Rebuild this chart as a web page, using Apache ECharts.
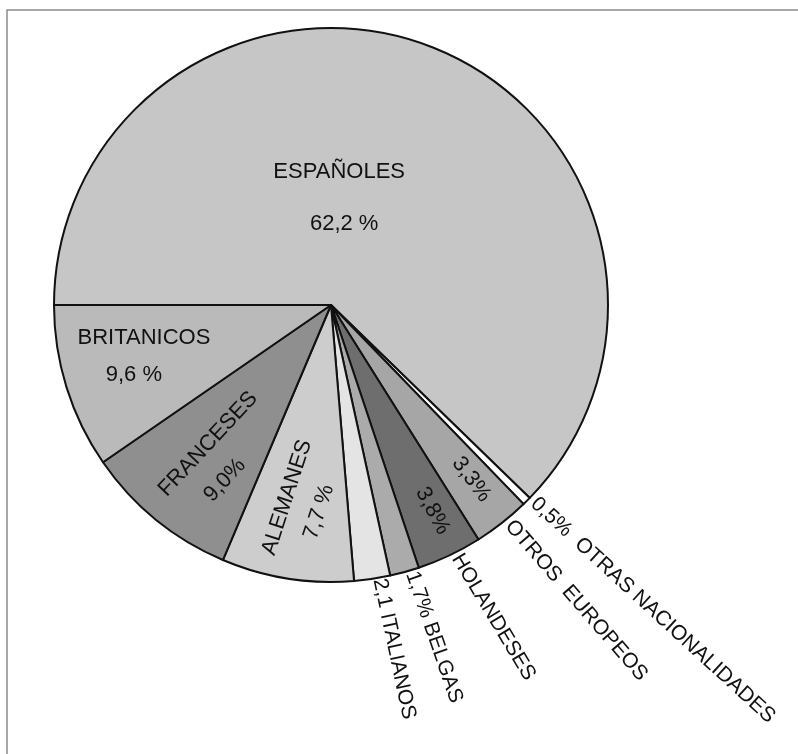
<!DOCTYPE html>
<html><head><meta charset="utf-8">
<script src="https://cdn.jsdelivr.net/npm/echarts@6/dist/echarts.min.js"></script>
<style>html,body{margin:0;padding:0;background:#fff}#c{width:798px;height:754px}</style>
</head><body><div id="c"></div>
<script>
// ---- data ----
const categories = ['ESPAÑOLES','OTRAS NACIONALIDADES','OTROS EUROPEOS','HOLANDESES','BELGAS','ITALIANOS','ALEMANES','FRANCESES','BRITANICOS'];
const values = [62.2, 0.5, 3.3, 3.8, 1.7, 2.1, 7.7, 9.0, 9.6];
const valueLabels = ['62,2 %','0,5%','3,3%','3,8%','1,7%','2,1','7,7 %','9,0%','9,6 %'];
const colors = ['#c6c6c6','#ffffff','#a6a6a6','#6e6e6e','#ababab','#e4e4e4','#cdcdcd','#8f8f8f','#bababa'];

// ---- label styling (not data) ----
const FONT = '"Liberation Sans", Arial, sans-serif';
const TXT = '#111111';
const insideStyle = {
  0: {text: i => `{n|${categories[i]}}\n{v|${valueLabels[i]}}`, lh: 52, vpad: [0,0,0,10], rotate: 0, dx: -45, dy: 24},
  8: {text: i => `{n|${categories[i]}}\n{v|${valueLabels[i]}}`, lh: 37, vpad: [0,20,0,0], rotate: 0, dx: -52, dy: 9},
  7: {text: i => `{n|${categories[i]}}\n{v|${valueLabels[i]}}`, lh: 37, vpad: [0,30,0,0], rotate: 47, dx: -20, dy: 42},
  6: {text: i => `{n|${categories[i]}}\n{v|${valueLabels[i]}}`, lh: 35, vpad: [0,8,0,0], rotate: 72, dx: -5, dy: 58},
  3: {text: i => `{v|${valueLabels[i]}}`, lh: 24, vpad: [0,0,0,0], rotate: -62, dx: 41, dy: 78},
  2: {text: i => `{v|${valueLabels[i]}}`, lh: 24, vpad: [0,0,0,0], rotate: -53, dx: 53, dy: 63}
};
const outsideStyle = {
  1: {text: i => `${valueLabels[i]}  ${categories[i]}`, rotate: -42.5},
  2: {text: i => categories[i].replace(' ', '  '), rotate: -49},
  3: {text: i => categories[i], rotate: -59},
  4: {text: i => `${valueLabels[i]} ${categories[i]}`, rotate: -71},
  5: {text: i => `${valueLabels[i]} ${categories[i]}`, rotate: -78}
};

const CENTER = [331, 305];
const RADIUS = 277;

const innerData = categories.map((name, i) => {
  const s = insideStyle[i];
  const item = {name, value: values[i], itemStyle: {color: colors[i]}};
  if (s) {
    item.label = {
      show: true, position: 'inside', rotate: s.rotate,
      formatter: s.text(i),
      rich: {
        n: {fontFamily: FONT, fontSize: 22, color: TXT, lineHeight: s.lh},
        v: {fontFamily: FONT, fontSize: 22, color: TXT, lineHeight: s.lh, padding: s.vpad}
      }
    };
  } else {
    item.label = {show: false};
  }
  return item;
});

const outerData = categories.map((name, i) => {
  const s = outsideStyle[i];
  const item = {name, value: values[i]};
  if (s) {
    item.label = {show: true, position: 'outside', rotate: s.rotate, formatter: s.text(i)};
  } else {
    item.label = {show: false};
  }
  return item;
});

const chart = echarts.init(document.getElementById('c'), null, {renderer: 'canvas'});
chart.setOption({
  animation: false,
  backgroundColor: '#ffffff',
  graphic: [{
    type: 'polyline',
    shape: {points: [[7, 754], [7, 10], [798, 10]]},
    style: {stroke: '#8c8c8c', lineWidth: 1.5, fill: null}
  }],
  series: [
    {
      type: 'pie',
      center: CENTER,
      radius: RADIUS,
      startAngle: 180,
      clockwise: true,
      avoidLabelOverlap: false,
      silent: true,
      emphasis: {disabled: true},
      itemStyle: {borderColor: '#111', borderWidth: 2},
      labelLine: {show: false},
      labelLayout: function (p) {
        const s = insideStyle[p.dataIndex];
        if (!s) return {};
        // offsets are applied in the label's rotated frame: convert screen offset
        const r = s.rotate * Math.PI / 180;
        const c = Math.cos(r), sn = Math.sin(r);
        return {dx: s.dx * c - s.dy * sn, dy: s.dx * sn + s.dy * c};
      },
      data: innerData
    },
    {
      type: 'pie',
      center: CENTER,
      radius: RADIUS,
      startAngle: 180,
      clockwise: true,
      avoidLabelOverlap: false,
      silent: true,
      emphasis: {disabled: true},
      itemStyle: {color: 'rgba(0,0,0,0)', borderWidth: 0},
      label: {fontFamily: FONT, fontSize: 21, color: TXT, distanceToLabelLine: 7},
      labelLine: {show: false, length: 0, length2: 0},
      data: outerData
    }
  ]
});
</script>
</body></html>
